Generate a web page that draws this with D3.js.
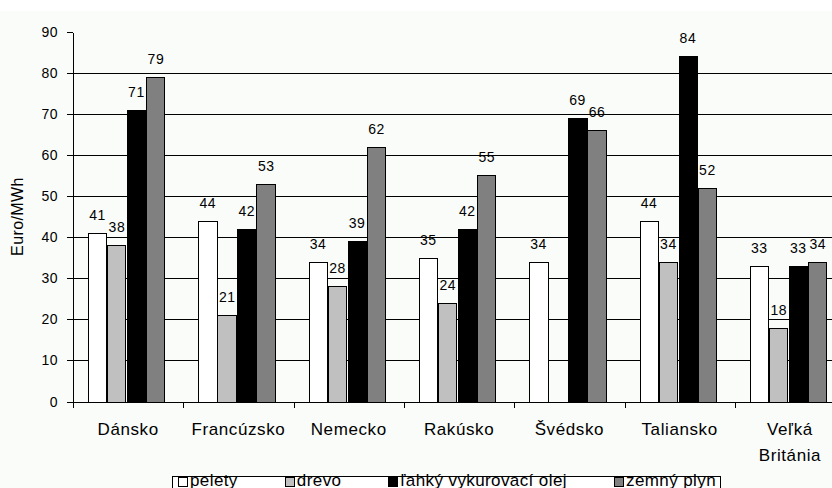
<!DOCTYPE html>
<html>
<head>
<meta charset="utf-8">
<script src="https://cdn.jsdelivr.net/npm/d3@7/dist/d3.min.js"></script>
<style>
  html, body { margin: 0; padding: 0; background: #ffffff; }
  svg { display: block; }
  text { font-family: "Liberation Sans", Arial, sans-serif; fill: #000; }
</style>
</head>
<body>
<svg id="chart" width="832" height="488"></svg>
<script>
// Fuel prices per country (Euro/MWh)
const countries = ["Dánsko", "Francúzsko", "Nemecko", "Rakúsko", "Švédsko", "Taliansko", "Veľká Británia"];
const seriesNames = ["pelety", "drevo", "ľahký vykurovací olej", "zemný plyn"];
const pelety = [41, 44, 34, 35, 34, 44, 33];
const drevo = [38, 21, 28, 24, null, 34, 18];
const olej = [71, 42, 39, 42, 69, 84, 33];
const plyn = [79, 53, 62, 55, 66, 52, 34];
const yTicks = [0, 10, 20, 30, 40, 50, 60, 70, 80, 90];

const seriesValues = [pelety, drevo, olej, plyn];
const seriesColors = ["#ffffff", "#c0c0c0", "#000000", "#808080"];

const svg = d3.select("#chart");

// faint paper tone behind the chart body
svg.append("rect").attr("x", 0).attr("y", 11).attr("width", 832).attr("height", 477).attr("fill", "#fafcfa");

const plotLeft = 73, bandStep = 110.3;
const x0 = d3.scaleBand().domain(countries).range([plotLeft, plotLeft + bandStep * countries.length]).paddingInner(0).paddingOuter(0);
const x1 = d3.scaleBand().domain(seriesNames).range([x0.bandwidth() * 0.133, x0.bandwidth() * 0.84]).padding(0);
const y = d3.scaleLinear().domain([0, 90]).range([401.5, 31.5]);

const crisp = v => Math.round(v) + 0.5;
const plotRight = x0.range()[1];

// horizontal gridlines
svg.append("g").selectAll("line")
  .data(yTicks.filter(t => t > 0 && t < 90))
  .join("line")
  .attr("x1", plotLeft).attr("x2", plotRight)
  .attr("y1", d => crisp(y(d))).attr("y2", d => crisp(y(d)))
  .attr("stroke", "#000").attr("stroke-width", 1)
  .attr("shape-rendering", "crispEdges");

// bars
const rows = countries.map((c, i) => ({ country: c, values: seriesNames.map((s, j) => ({ series: s, idx: j, value: seriesValues[j][i] })) }));

const groups = svg.append("g").selectAll("g")
  .data(rows)
  .join("g")
  .attr("transform", d => `translate(${x0(d.country)},0)`);

groups.selectAll("rect")
  .data(d => d.values.filter(v => v.value != null))
  .join("rect")
  .attr("x", d => Math.round(x1(d.series)) + 0.5)
  .attr("width", x1.bandwidth() - 1)
  .attr("y", d => Math.round(y(d.value)) + 0.5)
  .attr("height", d => Math.round(y(0)) - Math.round(y(d.value)))
  .attr("fill", d => seriesColors[d.idx])
  .attr("stroke", "#000").attr("stroke-width", 1)
  .attr("shape-rendering", "crispEdges");

// value labels
groups.selectAll("text")
  .data(d => d.values.filter(v => v.value != null))
  .join("text")
  .attr("x", d => x1(d.series) + x1.bandwidth() / 2)
  .attr("y", d => y(d.value) - 13)
  .attr("text-anchor", "middle")
  .attr("font-size", 14)
  .attr("letter-spacing", 0.5)
  .text(d => d.value);

// y axis
const yAxis = svg.append("g");
yAxis.append("line")
  .attr("x1", plotLeft + 0.5).attr("x2", plotLeft + 0.5)
  .attr("y1", crisp(y(90))).attr("y2", crisp(y(0)))
  .attr("stroke", "#000").attr("shape-rendering", "crispEdges");
yAxis.selectAll("line.tick")
  .data(yTicks)
  .join("line").attr("class", "tick")
  .attr("x1", plotLeft - 6).attr("x2", plotLeft)
  .attr("y1", d => crisp(y(d))).attr("y2", d => crisp(y(d)))
  .attr("stroke", "#000").attr("shape-rendering", "crispEdges");
yAxis.selectAll("text")
  .data(yTicks)
  .join("text")
  .attr("x", 58)
  .attr("y", d => y(d) + 5)
  .attr("text-anchor", "end")
  .attr("font-size", 14)
  .attr("letter-spacing", 0.5)
  .text(d => d);

// x axis
const xAxis = svg.append("g");
xAxis.append("line")
  .attr("x1", plotLeft - 6).attr("x2", plotRight)
  .attr("y1", crisp(y(0))).attr("y2", crisp(y(0)))
  .attr("stroke", "#000").attr("shape-rendering", "crispEdges");
const boundaries = countries.map(c => x0(c)).concat([plotRight]);
xAxis.selectAll("line.tick")
  .data(boundaries)
  .join("line").attr("class", "tick")
  .attr("x1", d => crisp(d)).attr("x2", d => crisp(d))
  .attr("y1", crisp(y(0))).attr("y2", crisp(y(0)) + 5)
  .attr("stroke", "#000").attr("shape-rendering", "crispEdges");

// category labels, long names wrapped onto two lines
xAxis.selectAll("text")
  .data(countries)
  .join("text")
  .attr("x", d => x0(d) + x0.bandwidth() / 2)
  .attr("y", 435)
  .attr("text-anchor", "middle")
  .attr("font-size", 17)
  .attr("letter-spacing", 0.6)
  .each(function(d) {
    const words = d.split(" ");
    const t = d3.select(this);
    if (words.length > 1) {
      words.forEach((w, k) => {
        t.append("tspan").attr("x", x0(d) + x0.bandwidth() / 2).attr("dy", k === 0 ? 0 : 26).text(w);
      });
    } else {
      t.text(d);
    }
  });

// y axis title
svg.append("text")
  .attr("transform", `translate(23,${(y(0) + y(90)) / 2}) rotate(-90)`)
  .attr("text-anchor", "middle")
  .attr("font-size", 16)
  .attr("letter-spacing", 0.4)
  .text("Euro/MWh");

// legend: swatch + label items laid out left to right inside a framed box
const legend = svg.append("g");
const legendLeft = 172, legendRight = 720, swatch = 9, swatchGap = 3;
const box = legend.append("rect")
  .attr("x", legendLeft + 0.5).attr("y", 476.5)
  .attr("width", legendRight - legendLeft).attr("height", 30)
  .attr("fill", "#ffffff").attr("stroke", "#000").attr("shape-rendering", "crispEdges");
const items = legend.selectAll("g")
  .data(seriesNames)
  .join("g");
items.append("rect")
  .attr("x", 0.5).attr("y", 477.5).attr("width", swatch).attr("height", swatch)
  .attr("fill", (d, i) => seriesColors[i])
  .attr("stroke", "#000").attr("shape-rendering", "crispEdges");
items.append("text")
  .attr("x", swatch + swatchGap).attr("y", 486)
  .attr("font-size", 17)
  .attr("letter-spacing", 0.4)
  .text(d => d);
const widths = [];
items.select("text").each(function() { widths.push(this.getComputedTextLength() + swatch + swatchGap); });
const startX = legendLeft + 6, endX = legendRight - 4;
const gap = (endX - startX - d3.sum(widths)) / (widths.length - 1);
let cursor = startX;
items.attr("transform", (d, i) => {
  const tx = cursor;
  cursor += widths[i] + gap;
  return `translate(${tx},0)`;
});
</script>
</body>
</html>
